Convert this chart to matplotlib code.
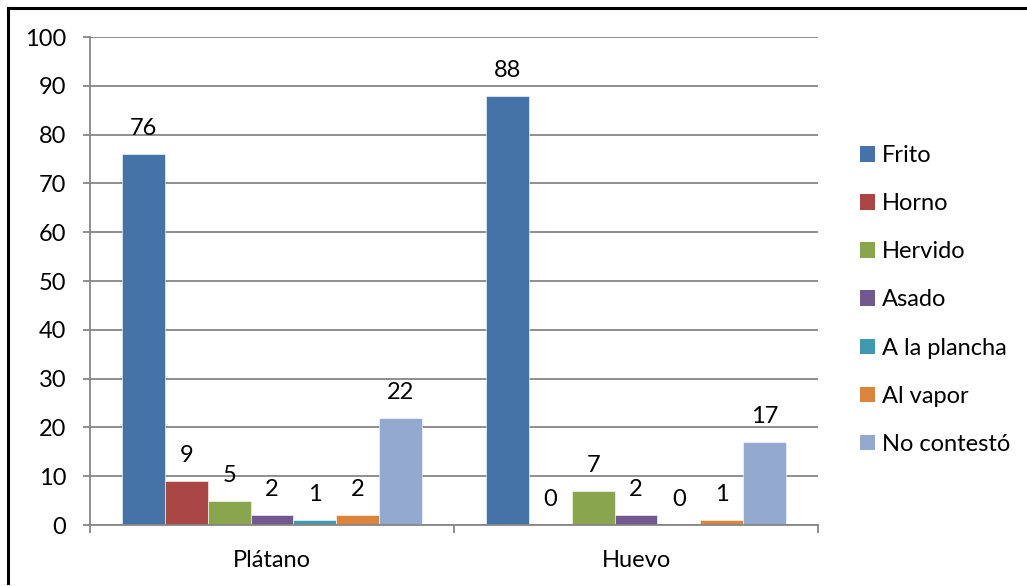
import numpy as np
import matplotlib.pyplot as plt
from matplotlib.lines import Line2D
from matplotlib.patches import Patch

plt.rcParams['font.family'] = ['Lato', 'DejaVu Sans']

# Respuestas por forma de preparación
categories = ['Plátano', 'Huevo']
series = ['Frito', 'Horno', 'Hervido', 'Asado', 'A la plancha', 'Al vapor', 'No contestó']
values = [
    [76, 88],  # Frito
    [9, 0],    # Horno
    [5, 7],    # Hervido
    [2, 2],    # Asado
    [1, 0],    # A la plancha
    [2, 1],    # Al vapor
    [22, 17],  # No contestó
]
colors = ['#4572A7', '#AA4643', '#89A54E', '#71588F', '#4198AF', '#DB843D', '#93A9CF']

FS = 17

fig = plt.figure(figsize=(10.27, 5.86), dpi=100)
ax = fig.add_axes([90 / 1027, 1 - 525 / 586, 728 / 1027, 488 / 586])

n = len(series)
width = 1 / (n + 1.5)
x = np.arange(len(categories))
for i, (name, vals, c) in enumerate(zip(series, values, colors)):
    pos = x + (i - (n - 1) / 2) * width
    bars = ax.bar(pos, vals, width, color=c, edgecolor='#ffffff', linewidth=0.4, label=name, zorder=2)
    for b, v in zip(bars, vals):
        ax.annotate(str(v), (b.get_x() + b.get_width() / 2, v), xytext=(0, 13.5),
                    textcoords='offset points', ha='center', va='baseline', fontsize=FS)

ax.set_xlim(-0.5, len(categories) - 0.5)
ax.set_ylim(0, 100)
ax.set_yticks(range(0, 101, 10))
ax.yaxis.grid(True, color='#868686', linewidth=1.3, zorder=0)
ax.set_axisbelow(True)

# category boundaries get tick marks, names sit between them
ax.set_xticks(np.arange(-0.5, len(categories), 1.0))
ax.set_xticklabels([])
ax.set_xticks(x, minor=True)
ax.set_xticklabels(categories, minor=True, fontsize=FS)
ax.tick_params(axis='x', which='major', length=6, width=1.3, color='#868686')
ax.tick_params(axis='x', which='minor', length=0, pad=18)
ax.tick_params(axis='y', length=5, width=1.3, color='#868686', pad=12, labelsize=FS)

for s in ['top', 'right']:
    ax.spines[s].set_visible(False)
for s in ['left', 'bottom']:
    ax.spines[s].set_color('#868686')
    ax.spines[s].set_linewidth(1.3)

handles = [Patch(facecolor=c, label=s) for s, c in zip(series, colors)]
fig.legend(handles=handles, loc='upper left', bbox_to_anchor=(860 / 1027, 1 - 145 / 586),
           frameon=False, fontsize=FS, handlelength=0.64, handleheight=0.64,
           handletextpad=0.3, labelspacing=1.15, borderpad=0, borderaxespad=0)

# frame lines along top and left edges
fig.add_artist(Line2D([8 / 1027, 1], [1 - 8 / 586, 1 - 8 / 586], color='black', linewidth=2.2))
fig.add_artist(Line2D([8 / 1027, 8 / 1027], [1 - 8 / 586, 1 - 583 / 586], color='black', linewidth=2.2))

fig.savefig('out.png', dpi=100)
